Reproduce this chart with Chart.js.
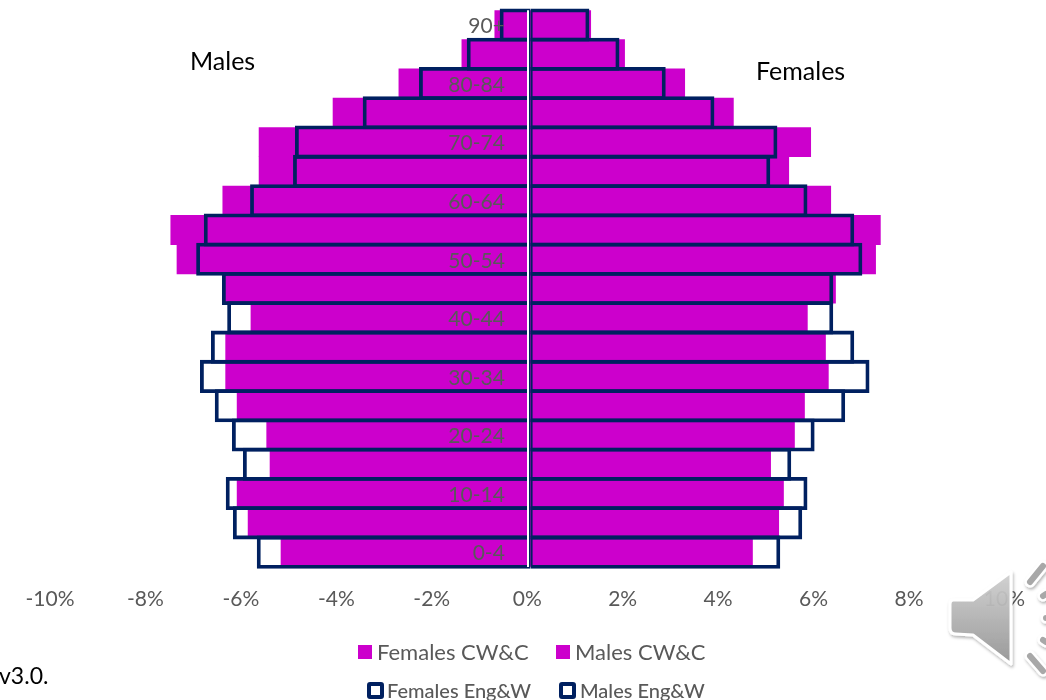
<!DOCTYPE html>
<html>
<head>
<meta charset="utf-8">
<script src="https://cdn.jsdelivr.net/npm/chart.js@4"></script>
<style>
html,body{margin:0;padding:0;background:#fff;overflow:hidden}
#wrap{position:relative;width:1046px;height:700px;overflow:hidden;font-family:Lato,"Open Sans",sans-serif}
canvas{position:absolute;left:0;top:0}
.t{position:absolute;white-space:nowrap;line-height:1}
.lg{color:#595959}
.sw{position:absolute}
</style>
</head>
<body>
<div id="wrap">
<canvas id="c" width="1046" height="700"></canvas>
<div class="t" style="left:190px;top:48px;font-size:25px;color:#000">Males</div>
<div class="t" style="left:756px;top:58px;font-size:25px;color:#000">Females</div>
<div class="t" style="left:-1px;top:664px;font-size:23px;color:#000">v3.0.</div>
<div id="legend"></div>
<svg style="position:absolute;left:0;top:0;pointer-events:none" width="1046" height="700">
  <defs>
    <linearGradient id="g" x1="0" y1="0" x2="0" y2="1">
      <stop offset="0" stop-color="#d2d2d2" stop-opacity=".92"/>
      <stop offset="1" stop-color="#969696" stop-opacity=".95"/>
    </linearGradient>
    <filter id="s" x="-20%" y="-20%" width="140%" height="140%">
      <feDropShadow dx="1" dy="2" stdDeviation="1.5" flood-color="#000" flood-opacity=".3"/>
    </filter>
  </defs>
  <g filter="url(#s)" stroke-linecap="round" stroke-linejoin="round">
    <path d="M1011 572 L973 600 L953 600 Q950 600 950 604 L950 628 Q950 634 956 634 L973 635 L1011 664 Z" fill="url(#g)" stroke="#fff" stroke-width="3"/>
    <g fill="none">
      <path d="M1030 582 L1043 566 M1043 596 L1046 594 M1046 618 L1050 618 M1043 640 L1046 642 M1030 656 L1043 671" stroke="#fff" stroke-width="11"/>
      <path d="M1030 582 L1043 566 M1043 596 L1046 594 M1046 618 L1050 618 M1043 640 L1046 642 M1030 656 L1043 671" stroke="#a8a8a8" stroke-width="6"/>
    </g>
  </g>
</svg>
</div>
<script>
const ageGroups = ['90+','85-89','80-84','75-79','70-74','65-69','60-64','55-59','50-54','45-49','40-44','35-39','30-34','25-29','20-24','15-19','10-14','5-9','0-4'];
const femalesCWC = [1.31,2.02,3.28,4.30,5.92,5.46,6.34,7.38,7.28,6.44,5.85,6.23,6.29,5.79,5.58,5.08,5.35,5.25,4.70];
const malesCWC = [-0.70,-1.39,-2.71,-4.09,-5.64,-5.64,-6.40,-7.49,-7.36,-6.40,-5.81,-6.34,-6.34,-6.10,-5.48,-5.41,-6.10,-5.87,-5.18];
const femalesEngW = [1.23,1.86,2.83,3.85,5.17,5.02,5.80,6.78,6.95,6.34,6.34,6.78,7.10,6.59,5.95,5.46,5.80,5.69,5.23];
const malesEngW = [-0.65,-1.34,-2.34,-3.52,-4.94,-4.98,-5.88,-6.85,-7.01,-6.47,-6.36,-6.70,-6.93,-6.62,-6.26,-6.03,-6.39,-6.24,-5.74];
const xTicks = [-10,-8,-6,-4,-2,0,2,4,6,8,10];
const seriesNames = ['Females CW&C','Males CW&C','Females Eng&W','Males Eng&W'];

const MAGENTA = '#cc00cc', NAVY = '#002060', GREY = '#595959';
const FONT = 'Lato, "Open Sans", sans-serif';

const magentaStyle = {backgroundColor: MAGENTA, borderWidth: 0, barPercentage: 1, categoryPercentage: 1, grouped: false, xAxisID: 'x', order: 2};
const navyStyle = {backgroundColor: 'rgba(0,0,0,0)', borderColor: NAVY, barPercentage: 1.13, categoryPercentage: 1, grouped: false, xAxisID: 'x2', borderSkipped: false, clip: false, order: 1};

const labelsBetween = {
  id: 'labelsBetween',
  afterLayout(chart) {
    const s = chart.scales.y;
    if (!s._origDrawLabels) {
      s._origDrawLabels = s.drawLabels;
      s.drawLabels = function () {};
    }
  },
  beforeDatasetDraw(chart, args) {
    if (args.index === 2) {
      const s = chart.scales.y;
      if (s._origDrawLabels) s._origDrawLabels.call(s, chart.chartArea);
    }
  }
};

new Chart(document.getElementById('c'), {
  type: 'bar',
  plugins: [labelsBetween],
  data: {
    labels: ageGroups,
    datasets: [
      {label: seriesNames[0], data: femalesCWC, ...magentaStyle},
      {label: seriesNames[1], data: malesCWC, ...magentaStyle},
      {label: seriesNames[2], data: femalesEngW, ...navyStyle, borderWidth: {left: 1.9, right: 3.8, top: 3.8, bottom: 3.8}},
      {label: seriesNames[3], data: malesEngW, ...navyStyle, borderWidth: {left: 3.8, right: 1.9, top: 3.8, bottom: 3.8}}
    ]
  },
  options: {
    indexAxis: 'y',
    responsive: false,
    animation: false,
    devicePixelRatio: 1,
    layout: {padding: {left: 51, right: 40, top: 10.3, bottom: 68}},
    plugins: {legend: {display: false}, tooltip: {enabled: false}, title: {display: false}},
    scales: {
      x: {
        type: 'linear', min: -10, max: 10,
        afterBuildTicks(axis) { axis.ticks = xTicks.map(v => ({value: v})); },
        grid: {display: true, drawTicks: false, lineWidth: 2, z: 1, color: ctx => (ctx.tick && ctx.tick.value === 0) ? '#ffffff' : 'rgba(0,0,0,0)'},
        border: {display: false},
        ticks: {color: GREY, font: {family: FONT, size: 21}, padding: 20, labelOffset: -1, maxRotation: 0, callback: v => v + '%'}
      },
      x2: {type: 'linear', min: -10.052, max: 9.948, display: false},
      y: {
        type: 'category',
        position: {x: -0.49},
        afterFit(axis) { axis.paddingTop = 0; axis.paddingBottom = 0; },
        grid: {display: false, drawTicks: false},
        border: {display: false},
        ticks: {
          color: GREY, font: {family: FONT, size: 21}, padding: 0, labelOffset: 1.5, autoSkip: false,
          callback(v, i) { return i % 2 === 0 ? this.getLabelForValue(v) : ''; }
        }
      }
    }
  }
});

const legendItems = [
  {name: seriesNames[0], x: 358, y: 645, size: 14, tx: 377, ty: 641, fs: 22, solid: true},
  {name: seriesNames[1], x: 556, y: 645, size: 14, tx: 575, ty: 641, fs: 22, solid: true},
  {name: seriesNames[2], x: 367, y: 682, size: 17, tx: 387, ty: 680, fs: 20, solid: false},
  {name: seriesNames[3], x: 559, y: 682, size: 17, tx: 580, ty: 680, fs: 20, solid: false}
];
const lg = document.getElementById('legend');
legendItems.forEach(it => {
  const sw = document.createElement('div');
  sw.className = 'sw';
  sw.style.cssText = `left:${it.x}px;top:${it.y}px;width:${it.size}px;height:${it.size}px;box-sizing:border-box;` +
    (it.solid ? `background:${MAGENTA};` : `background:#fff;border:4px solid ${NAVY};border-radius:3px;filter:blur(.5px);`);
  lg.appendChild(sw);
  const t = document.createElement('div');
  t.className = 't lg';
  t.textContent = it.name;
  t.style.cssText = `left:${it.tx}px;top:${it.ty}px;font-size:${it.fs}px;` + (it.solid ? '' : 'filter:blur(.7px);font-weight:500;');
  lg.appendChild(t);
});
</script>
</body>
</html>
